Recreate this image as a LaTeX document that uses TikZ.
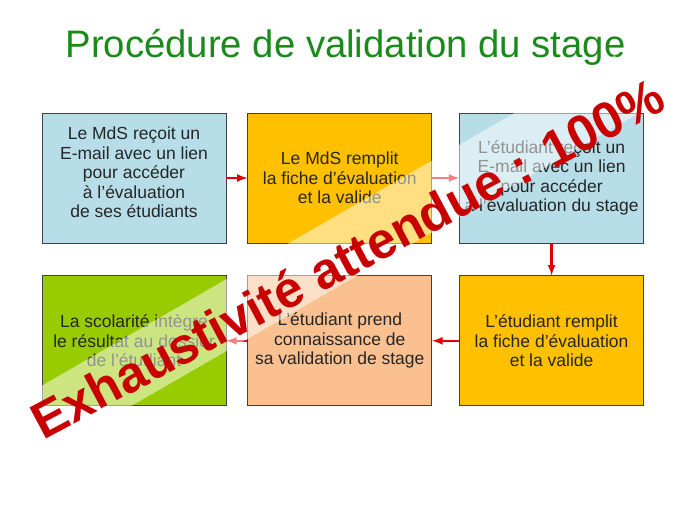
\documentclass[tikz,border=0pt]{standalone}
\usepackage{fontspec}
\setmainfont{Liberation Sans}
\usetikzlibrary{positioning,arrows}

\definecolor{titrevert}{HTML}{1A8A1A}
\definecolor{bleu}{HTML}{B7DEE8}
\definecolor{jaune}{HTML}{FFC000}
\definecolor{peche}{HTML}{FAC090}
\definecolor{vert}{HTML}{99CC00}
\definecolor{rouge}{HTML}{C80000}
\definecolor{fleche}{HTML}{E00000}
\definecolor{bord}{HTML}{404040}

\begin{document}
\begin{tikzpicture}[
    x=1pt, y=-1pt,
    node distance=32pt and 24pt,
    every node/.style={font=\fontsize{17.5}{19.5}\selectfont, text=black!85},
    etape/.style={rectangle, draw=bord, line width=0.8pt, minimum width=184pt, minimum height=130pt, inner sep=0pt, align=center},
    lien/.style={-latex, line width=2.5pt, fleche}
]
\useasboundingbox (0,0) rectangle (689,517);

\node[anchor=base, font=\fontsize{38.3}{42}\selectfont, text=titrevert] (titre) at (345.5,57) {Procédure de validation du stage};

\node[etape, fill=bleu] (mdsmail) at (134,178) {Le MdS reçoit un\\E-mail avec un lien\\pour accéder\\à l’évaluation\\de ses étudiants\\[-8pt]};
\node[etape, fill=jaune, right=21pt of mdsmail] (mdsfiche) {Le MdS remplit\\la fiche d’évaluation\\et la valide};
\node[etape, fill=bleu, right=27pt of mdsfiche] (etumail) {L’étudiant reçoit un\\E-mail avec un lien\\pour accéder\\à l’évaluation du stage};
\node[etape, fill=jaune, below=of etumail] (etufiche) {L’étudiant remplit\\la fiche d’évaluation\\et la valide};
\node[etape, fill=peche, left=27pt of etufiche] (etuvalid) {L’étudiant prend\\connaissance de\\sa validation de stage};
\node[etape, fill=vert, left=21pt of etuvalid] (scolarite) {La scolarité intègre\\le résultat au dossier\\de l’étudiant};

\draw[lien] (mdsmail) -- (mdsfiche);
\draw[lien] (mdsfiche) -- (etumail);
\draw[lien] (etumail) -- (etufiche);
\draw[lien] (etufiche) -- (etuvalid);
\draw[lien] (etuvalid) -- (scolarite);

% bandeau blanc transparent
\fill[white, fill opacity=0.5] (17,400) -- (615,55) -- (646,109) -- (48,454) -- cycle;

\node[rotate=28, anchor=base, font=\fontsize{51}{55}\selectfont\bfseries, text=rouge] (exhaust) at (356,274) {Exhaustivité attendue : 100\%};

\end{tikzpicture}
\end{document}
